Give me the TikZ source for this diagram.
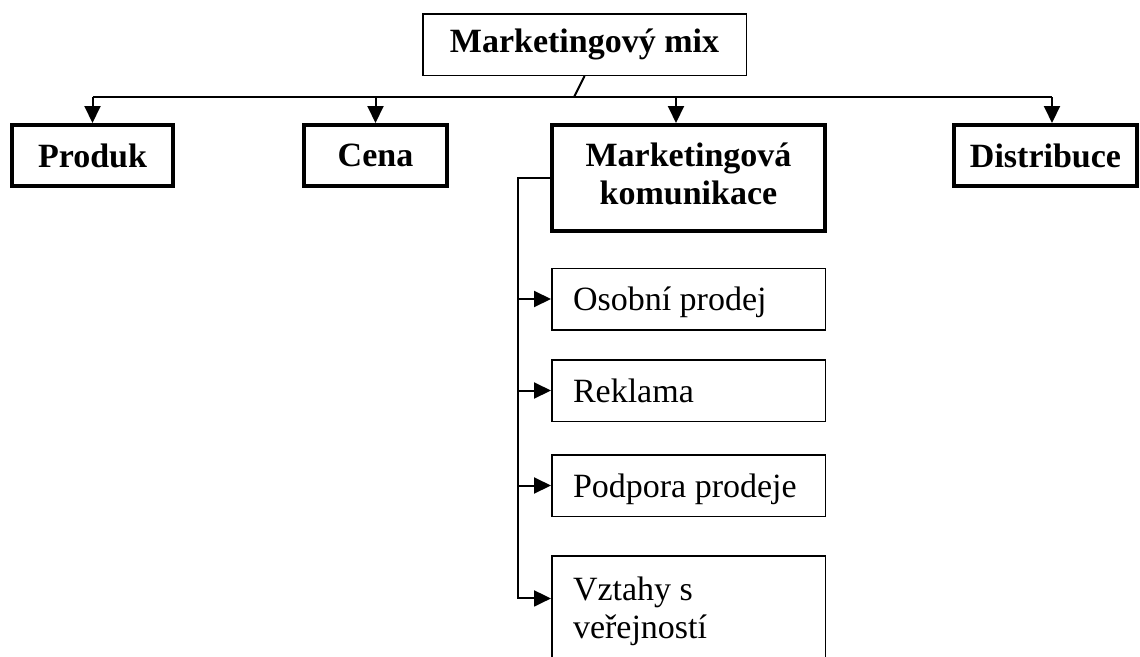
\documentclass[tikz,border=0pt]{standalone}
\usepackage{fontspec}
\setmainfont{Liberation Serif}
\usetikzlibrary{arrows.meta}

\begin{document}
\begin{tikzpicture}[>={Triangle[length=17pt,width=16pt]},x=1pt,y=-1pt,
  every node/.style={font=\fontsize{34}{38}\selectfont},
  topbox/.style={draw,line width=1.5pt,outer sep=0.75pt,inner sep=0pt,font=\fontsize{34}{38}\selectfont\bfseries},
  mainbox/.style={draw,line width=4pt,outer sep=2pt,inner sep=0pt,minimum height=61pt,font=\fontsize{34}{38}\selectfont\bfseries},
  subbox/.style={draw,line width=1.5pt,outer sep=0.75pt,inner xsep=21.25pt,inner ysep=0pt,text width=231pt,align=flush left,text height=23pt,text depth=0pt,minimum height=61.5pt},
  conn/.style={line width=2pt}]
\useasboundingbox (0,0) rectangle (1140,656);
\clip (0,0) rectangle (1140,656);
% top
\node[topbox,minimum width=323.5pt,minimum height=61.5pt] (mix) at (584.5,44.5) {Marketingový mix};
% second row
\node[mainbox,minimum width=161pt] (produk) at (92.5,155.5) {Produk};
\node[mainbox,minimum width=143pt] (cena) at (375.5,155.5) {Cena};
\node[mainbox,anchor=north,text width=273pt,align=center,text height=41pt,text depth=65pt,minimum height=0pt] (mk) at (688.5,123) {Marketingová\\komunikace};
\node[mainbox,minimum width=183pt] (distribuce) at (1045.5,155.5) {Distribuce};
% communication tools
\node[subbox] (osobni) at (688.5,299) {Osobní prodej};
\node[subbox] (reklama) at (688.5,390.5) {Reklama};
\node[subbox] (podpora) at (688.5,485.5) {Podpora prodeje};
\node[subbox,anchor=north,text height=45pt,text depth=150pt,minimum height=0pt] (vztahy) at (688.5,555) {Vztahy s\\veřejností};
% bus
\coordinate (busL) at (92.5,97);
\coordinate (join) at (574,97);
\coordinate (tomk) at (676,97);
\coordinate (todist) at (1052,97);
\coordinate (split) at (518,180);
\draw[conn] (busL) -- (todist);
\draw[conn] (mix.south) -- (join);
\draw[conn,->] (busL) -- (produk.north);
\draw[conn,->] (cena.north |- busL) -- (cena.north);
\draw[conn,->] (tomk) -- (tomk |- mk.north);
\draw[conn,->] (todist) -- (todist |- distribuce.north);
% bracket
\draw[conn,->] (mk.west) -| (split) |- (vztahy.mid west);
\foreach \n in {osobni,reklama,podpora}
  \draw[conn,->] (split |- \n.west) -- (\n.west);
\end{tikzpicture}
\end{document}
